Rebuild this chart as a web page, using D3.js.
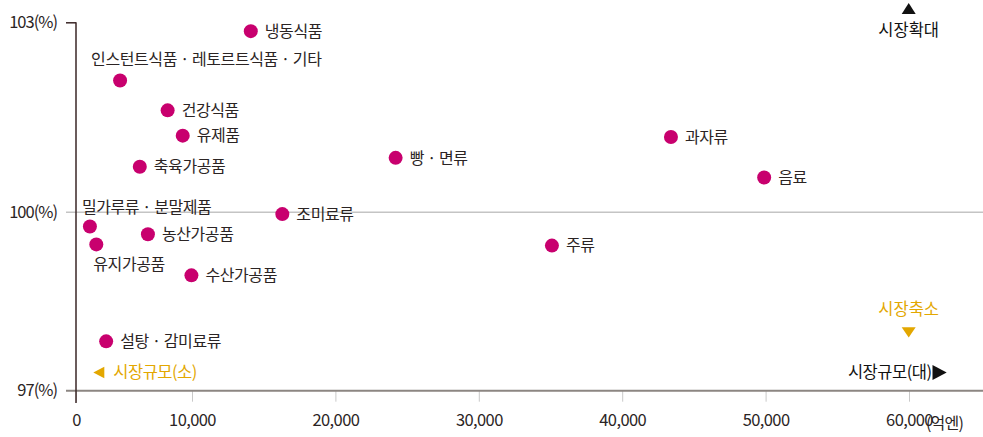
<!DOCTYPE html>
<html>
<head>
<meta charset="utf-8">
<script src="https://cdn.jsdelivr.net/npm/d3@7"></script>
<style>
  body { margin: 0; background: #fff; }
  svg { display: block; font-family: "Noto Sans CJK KR", "Noto Sans", sans-serif; }
</style>
</head>
<body>
<script>
// 품목, 시장규모(억엔), 전년대비(%)
const categories = ['냉동식품', '인스턴트식품 · 레토르트식품 · 기타', '건강식품', '유제품', '축육가공품',
  '빵 · 면류', '과자류', '음료', '조미료류', '밀가루류 · 분말제품', '농산가공품', '유지가공품',
  '주류', '수산가공품', '설탕 · 감미료류']
const marketSize = [14100, 3800, 7900, 9200, 5500, 24200, 43400, 49900, 16300, 1200, 6200, 1750, 35100, 9950, 2600]
const growthRate = [102.86, 102.08, 101.61, 101.21, 100.72, 100.86, 101.19, 100.55, 99.97, 99.76, 99.63, 99.46, 99.44, 98.94, 97.83]

const xTicks = [0, 10000, 20000, 30000, 40000, 50000, 60000]
const yTicks = [97, 100, 103]

// label placement (default: right of the dot)
const labelOffset = {
  '인스턴트식품 · 레토르트식품 · 기타': [-29, -21],
  '밀가루류 · 분말제품': [-8, -19],
  '유지가공품': [-3, 20]
}

const width = 983
const height = 437
const dotColor = '#c8006e'
const textColor = '#2b2424'
const gold = '#e3a700'

const data = categories.map((c, i) => ({ name: c, size: marketSize[i], rate: growthRate[i] }))

const svg = d3.select('body').append('svg')
  .attr('width', width)
  .attr('height', height)

// the original axes are not evenly spaced, so piecewise scales
const x = d3.scaleLinear()
  .domain([0, 10000, 60000])
  .range([76, 192, 909])

const y = d3.scaleLinear()
  .domain([97, 100, 103])
  .range([390.7, 212.3, 22.3])

// 100% reference line
svg.append('line')
  .attr('x1', 66).attr('x2', width)
  .attr('y1', y(100)).attr('y2', y(100))
  .attr('stroke', '#c4c4c4')
  .attr('stroke-width', 1.5)

// x axis
const xAxis = d3.axisBottom(x)
  .tickValues(xTicks)
  .tickFormat(d3.format(','))
  .tickSizeInner(11)
  .tickSizeOuter(0)
  .tickPadding(13)

const gx = svg.append('g')
  .attr('transform', `translate(0,${y(97)})`)
  .call(xAxis)
gx.select('.domain').remove()
gx.selectAll('.tick line').attr('stroke', '#c9c9c9')
gx.selectAll('.tick text')
  .attr('fill', textColor)
  .style('font-size', '16.5px')
  .style('letter-spacing', '-0.6px')
  .style('font-family', '"Noto Sans CJK KR", sans-serif')

svg.append('line')
  .attr('x1', 66).attr('x2', width)
  .attr('y1', y(97)).attr('y2', y(97))
  .attr('stroke', '#8c8682')
  .attr('stroke-width', 2)

svg.append('text')
  .attr('x', 926)
  .attr('y', y(97) + 38)
  .attr('fill', textColor)
  .style('font-size', '16px')
  .style('letter-spacing', '-0.8px')
  .text('(억엔)')

// y axis
const yAxis = d3.axisLeft(y)
  .tickValues(yTicks)
  .tickFormat(d => d + '(%)')
  .tickSizeInner(10)
  .tickSizeOuter(0)
  .tickPadding(9)

const gy = svg.append('g')
  .attr('transform', `translate(76,0)`)
  .call(yAxis)
gy.select('.domain').remove()
gy.selectAll('.tick line')
  .attr('stroke', d => d == 103 ? '#3a2626' : 'none')
  .attr('stroke-width', 1.5)
gy.selectAll('.tick text')
  .attr('fill', textColor)
  .style('font-size', '16.5px')
  .style('letter-spacing', '-1px')
  .style('font-family', '"Noto Sans CJK KR", sans-serif')

svg.append('line')
  .attr('x1', 76).attr('x2', 76)
  .attr('y1', y(103)).attr('y2', 403)
  .attr('stroke', '#3a2626')
  .attr('stroke-width', 1.5)

// dots
svg.append('g')
  .selectAll('circle')
  .data(data)
  .join('circle')
  .attr('cx', d => x(d.size))
  .attr('cy', d => y(d.rate))
  .attr('r', 7)
  .attr('fill', dotColor)

svg.append('g')
  .selectAll('text')
  .data(data)
  .join('text')
  .attr('x', d => x(d.size) + (labelOffset[d.name] ? labelOffset[d.name][0] : 14))
  .attr('y', d => y(d.rate) + (labelOffset[d.name] ? labelOffset[d.name][1] : 0))
  .attr('dy', '0.36em')
  .attr('fill', textColor)
  .style('font-size', '16px')
  .style('letter-spacing', '-0.4px')
  .text(d => d.name)

// corner notes
const notes = svg.append('g').style('font-size', '16.5px')

notes.append('path')
  .attr('d', 'M901.7,14 L915.7,14 L908.7,3 Z')
  .attr('fill', '#111')
notes.append('text')
  .attr('x', 908.7).attr('y', 30.5).attr('dy', '0.36em')
  .attr('text-anchor', 'middle')
  .attr('fill', '#111')
  .text('시장확대')

notes.append('text')
  .attr('x', 908.7).attr('y', 309.5).attr('dy', '0.36em')
  .attr('text-anchor', 'middle')
  .attr('fill', gold)
  .text('시장축소')
notes.append('path')
  .attr('d', 'M901.7,327.3 L915.7,327.3 L908.7,337.5 Z')
  .attr('fill', gold)

notes.append('text')
  .attr('x', 931.5).attr('y', 372.5).attr('dy', '0.36em')
  .attr('text-anchor', 'end')
  .attr('fill', '#111')
  .style('letter-spacing', '-0.5px')
  .text('시장규모(대)')
notes.append('path')
  .attr('d', 'M932.5,365 L932.5,380 L946.7,372.5 Z')
  .attr('fill', '#111')

notes.append('path')
  .attr('d', 'M104.3,366.7 L104.3,378.3 L93.3,372.5 Z')
  .attr('fill', gold)
notes.append('text')
  .attr('x', 113.3).attr('y', 372.5).attr('dy', '0.36em')
  .attr('fill', gold)
  .style('letter-spacing', '-0.5px')
  .text('시장규모(소)')
</script>
</body>
</html>
